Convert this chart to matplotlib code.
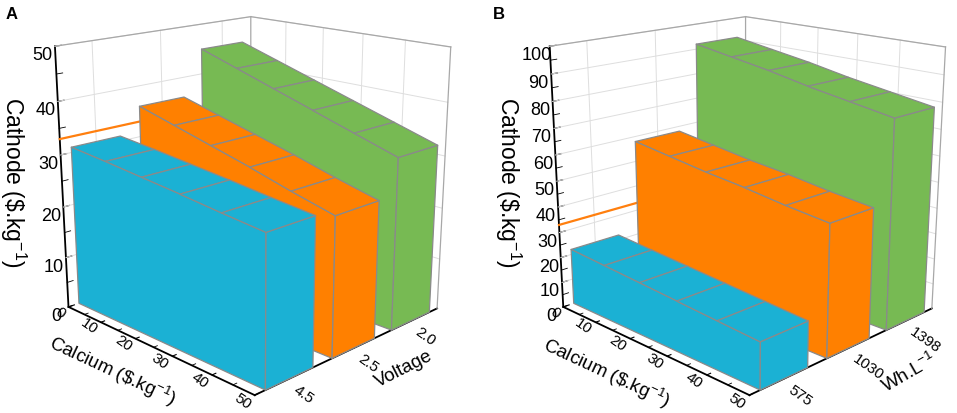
import numpy as np
import matplotlib
matplotlib.use("Agg")
import matplotlib.pyplot as plt
from matplotlib.ticker import MultipleLocator
from mpl_toolkits.mplot3d.art3d import Poly3DCollection

plt.rcParams['font.family'] = ['Liberation Sans', 'DejaVu Sans']
plt.rcParams['mathtext.fontset'] = 'custom'
plt.rcParams['mathtext.rm'] = 'Liberation Sans'

# ---------------- data ----------------
calcium = [0, 10, 20, 30, 40, 50]
calcium_ticks = [0, 10, 20, 30, 40, 50]

a_voltage = ['4.5', '2.5', '2.0']          # front -> back
a_blue = [31, 30.3, 29.5, 28.7, 27.8, 27]
a_orange = [36, 34, 32, 30, 27.8, 25.8]
a_green = [45, 42.5, 40, 37.5, 35, 32.5]
a_reference = 33

b_density = ['575', '1030', '1398']       # front -> back
b_blue = [22, 21, 20, 19, 18, 17]
b_orange = [58, 56, 54, 52.5, 50.5, 49]
b_green = [92, 89.5, 87, 84, 81.5, 79]
b_reference = 33

colors = ['#1BB1D4', '#FF8000', '#77BA53']
EDGE = '#8a8a8a'
GRID = '#dedede'
BOX = '#a8a8a8'
W, H = 957, 414


def panel(ax, rows, cats, zmax, ref, ztick_step):
    ny = len(cats)
    xmax = calcium[-1]
    zt = list(range(0, zmax + 1, ztick_step))
    for z in zt[1:]:
        ax.plot([0, 0], [0, ny], [z, z], color=GRID, lw=0.7, zorder=1)
        ax.plot([0, xmax], [ny, ny], [z, z], color=GRID, lw=0.7, zorder=1)
    for yc in np.arange(ny) + 0.5:
        ax.plot([0, 0], [yc, yc], [0, zmax], color=GRID, lw=0.7, zorder=1)
    for xc in calcium_ticks[1:-1]:
        ax.plot([xc, xc], [ny, ny], [0, zmax], color=GRID, lw=0.7, zorder=1)
    ax.plot([0, 0], [0, ny], [zmax, zmax], color=BOX, lw=0.9, zorder=1.5)
    ax.plot([0, xmax], [ny, ny], [zmax, zmax], color=BOX, lw=0.9, zorder=1.5)
    ax.plot([0, 0], [ny, ny], [0, zmax], color=BOX, lw=0.9, zorder=1.5)
    ax.plot([xmax, xmax], [ny, ny], [0, zmax], color=BOX, lw=0.9, zorder=1.5)
    ax.plot([0, 0], [0, ny], [ref, ref], color='#FF7F0E', lw=1.6, zorder=2)

    for r in range(ny - 1, -1, -1):
        h = rows[r]
        y0, y1 = r + 0.15, r + 0.85
        polys = []
        front = [(calcium[0], y0, 0), (calcium[-1], y0, 0)]
        front += [(x, y0, hz) for x, hz in zip(calcium[::-1], h[::-1])]
        polys.append(front)
        for i in range(len(calcium) - 1):
            polys.append([(calcium[i], y0, h[i]), (calcium[i + 1], y0, h[i + 1]),
                          (calcium[i + 1], y1, h[i + 1]), (calcium[i], y1, h[i])])
        polys.append([(calcium[-1], y0, 0), (calcium[-1], y1, 0),
                      (calcium[-1], y1, h[-1]), (calcium[-1], y0, h[-1])])
        pc = Poly3DCollection(polys, facecolor=colors[r], edgecolor=EDGE,
                              linewidths=0.9, zorder=5 - r)
        ax.add_collection3d(pc)

    ax.set_xlim(0, xmax)
    ax.set_ylim(0, ny)
    ax.set_zlim(0, zmax)
    ax.set_xticks(calcium_ticks)
    ax.set_xticklabels([str(c) for c in calcium_ticks])
    ax.xaxis.set_minor_locator(MultipleLocator(5))
    ax.set_yticks(np.arange(ny) + 0.5)
    ax.set_yticklabels(cats)
    ax.set_zticks(zt)
    ax.set_zticklabels([str(z) for z in zt])
    ax.zaxis.set_minor_locator(MultipleLocator(5))
    ax.grid(False)
    for axis in (ax.xaxis, ax.yaxis, ax.zaxis):
        axis.set_pane_color((1, 1, 1, 0))
        axis.pane.set_edgecolor((1, 1, 1, 0))
        axis.line.set_color('k')
        axis.line.set_linewidth(1.3)
        axis._axinfo['tick']['inward_factor'] = 0.0
        axis._axinfo['tick']['outward_factor'] = 0.22
    ax.zaxis._axinfo['tick']['outward_factor'] = 0.35
    ax.zaxis.set_ticks_position('lower')
    ax.zaxis.set_label_position('lower')
    ax.tick_params(axis='x', labelsize=11, rotation=-35, pad=-4)
    ax.tick_params(axis='y', labelsize=11, rotation=-35, pad=-4)
    ax.tick_params(axis='z', labelsize=13, pad=-3)
    plt.setp(ax.get_xticklabels(), ha='right', va='center', rotation_mode='anchor')
    plt.setp(ax.get_yticklabels(), ha='left', va='center', rotation_mode='anchor')
    ax.set_xlabel('')
    ax.set_ylabel('')
    ax.zaxis.set_rotate_label(False)
    ax.set_zlabel('Cathode (\\$.kg$^{-1}$)', fontsize=16.5, rotation=270, labelpad=-1)
    ax.view_init(elev=17, azim=-45)
    ax.set_proj_type('persp', focal_length=0.5)
    ax.set_box_aspect((1.0, 0.98, 1.0), zoom=1.1)


def label(fig, px, py, text, rot):
    fig.text(px / W, 1 - py / H, text, fontsize=13.5, rotation=rot,
             ha='center', va='center', rotation_mode='anchor')


fig = plt.figure(figsize=(W / 100, H / 100), dpi=100)
axA = fig.add_axes([0.008, 0.045, 0.5, 1.0], projection='3d', computed_zorder=False)
axB = fig.add_axes([0.525, 0.045, 0.5, 1.0], projection='3d', computed_zorder=False)
panel(axA, [a_blue, a_orange, a_green], a_voltage, 50, a_reference, 10)
panel(axB, [b_blue, b_orange, b_green], b_density, 100, b_reference, 10)
label(fig, 113, 371, 'Calcium (\\$.kg$^{-1}$)', -25)
label(fig, 404, 369, 'Voltage', 27)
label(fig, 607, 373, 'Calcium (\\$.kg$^{-1}$)', -25)
label(fig, 909, 373, 'Wh.L$^{-1}$', 30)
fig.text(0.006, 0.955, 'A', fontsize=12, fontweight='bold')
fig.text(0.515, 0.955, 'B', fontsize=12, fontweight='bold')
fig.savefig('out.png', dpi=100)
